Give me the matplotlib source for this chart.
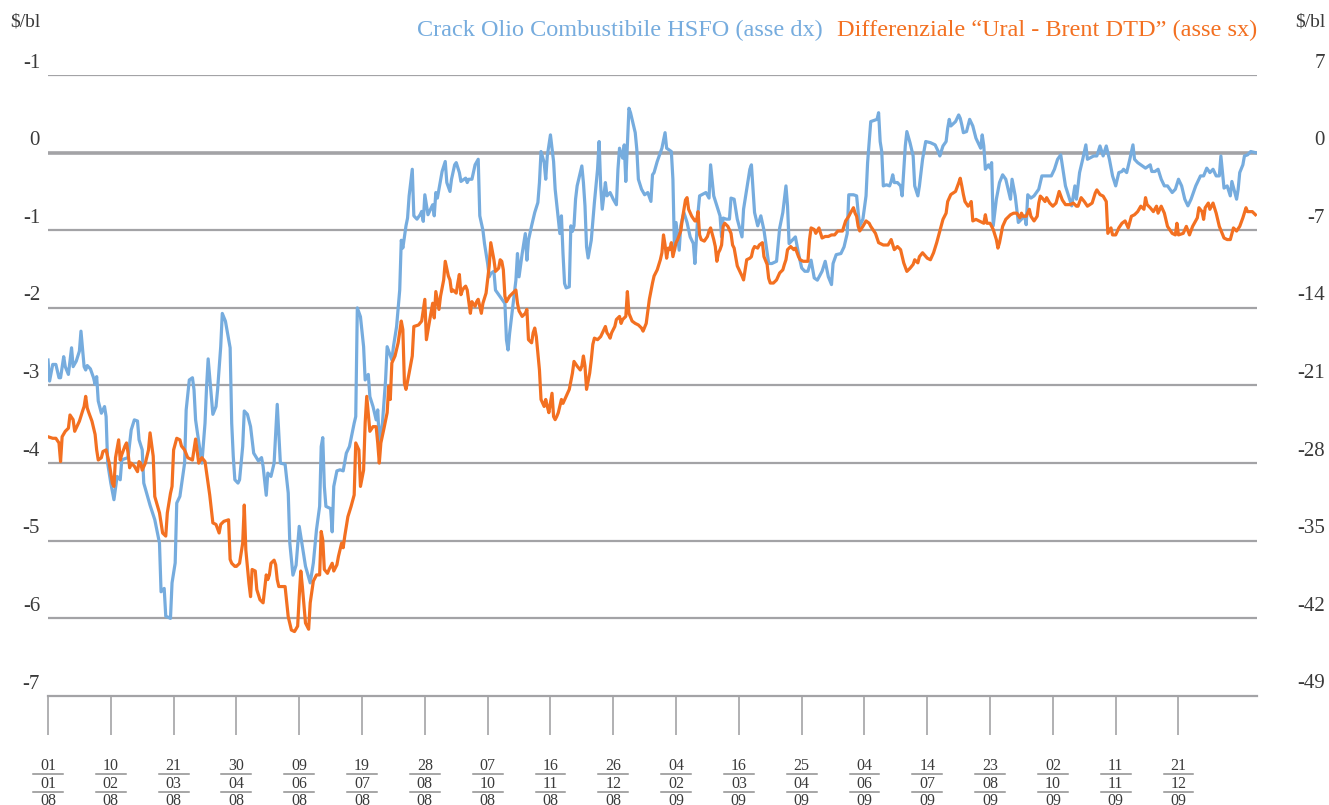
import datetime as dt

import matplotlib

matplotlib.use("Agg")
import matplotlib.pyplot as plt
from matplotlib import transforms

plt.rcParams["font.family"] = ["Liberation Serif", "DejaVu Serif"]

# ---- data -------------------------------------------------------------
START = dt.date(2008, 1, 1)

# Crack Olio Combustibile HSFO ($/bl, right axis): days since 1 Jan 2008, value
hsfo_day = [
    0, 1, 3, 5, 7, 8, 10, 11, 13, 15, 16, 18, 20, 21, 23, 24, 25, 27, 29, 30,
    31, 32, 34, 36, 37, 38, 40, 42, 44, 46, 47, 51, 53, 55, 57, 58, 60, 61, 65, 68,
    71, 72, 74, 75, 78, 79, 81, 82, 84, 87, 88, 90, 92, 93, 94, 95, 98, 100, 101, 102,
    103, 105, 107, 108, 110, 111, 113, 116, 117, 118, 119, 121, 122, 124, 125, 127, 129, 131, 134, 136,
    137, 139, 140, 142, 144, 146, 148, 151, 153, 154, 156, 158, 160, 162, 164, 167, 169, 171, 173, 174,
    175, 176, 177, 180, 181, 182, 184, 186, 188, 190, 192, 194, 195, 196, 197, 199, 201, 202, 204, 205,
    207, 209, 210, 211, 213, 215, 216, 219, 220, 222, 224, 225, 226, 228, 229, 230, 232, 233, 235, 237,
    238, 239, 240, 242, 243, 245, 246, 247, 248, 249, 251, 253, 254, 256, 257, 259, 260, 262, 263, 265,
    266, 267, 268, 270, 272, 274, 275, 277, 278, 280, 281, 282, 284, 285, 288, 291, 292, 293, 294, 296,
    298, 299, 300, 302, 304, 305, 306, 308, 310, 312, 313, 314, 316, 317, 318, 320, 322, 323, 325, 326,
    327, 328, 329, 330, 332, 333, 334, 335, 336, 337, 340, 341, 342, 343, 344, 346, 348, 350, 351, 352,
    353, 355, 356, 358, 360, 362, 363, 364, 366, 367, 368, 370, 371, 374, 375, 376, 378, 380, 382, 384,
    385, 386, 388, 391, 393, 394, 397, 398, 399, 400, 402, 403, 405, 407, 409, 411, 412, 414, 415, 419,
    421, 422, 424, 426, 428, 429, 430, 432, 434, 435, 437, 439, 442, 443, 445, 447, 448, 450, 452, 454,
    456, 459, 461, 464, 466, 468, 470, 471, 472, 474, 476, 478, 480, 482, 484, 486, 488, 490, 493, 495,
    497, 499, 500, 502, 505, 507, 509, 510, 513, 515, 516, 517, 519, 521, 522, 524, 528, 529, 530, 531,
    532, 534, 536, 537, 538, 539, 541, 543, 544, 546, 547, 549, 551, 552, 554, 555, 557, 559, 562, 565,
    567, 568, 570, 572, 573, 574, 575, 578, 580, 581, 582, 583, 585, 587, 589, 591, 594, 595, 596, 597,
    599, 600, 601, 602, 604, 606, 608, 610, 613, 614, 616, 618, 620, 622, 623, 624, 626, 628, 631, 633,
    636, 639, 641, 643, 645, 648, 650, 652, 654, 655, 657, 659, 661, 662, 666, 668, 670, 672, 674, 676,
    678, 680, 682, 684, 685, 687, 689, 691, 692, 694, 696, 699, 702, 703, 705, 707, 709, 711, 713, 716,
    718, 720, 722, 724, 726, 728, 731, 734, 736, 738, 740, 742, 744, 746, 747, 749, 751, 753, 754, 757,
    758, 759, 761, 762, 764, 766, 769,
]
hsfo_val = [
    -18.7, -20.6, -19.1, -19.1, -20.3, -20.3, -18.4, -19.3, -20.0, -17.6, -19.3, -18.8, -17.9, -16.1, -19.3, -19.6, -19.2, -19.5, -20.3, -20.9,
    -20.2, -22.4, -23.5, -22.9, -23.8, -28.0, -29.8, -31.3, -29.2, -29.5, -27.7, -27.5, -25.0, -24.1, -24.2, -25.9, -26.8, -29.8, -31.8, -33.1,
    -35.2, -39.6, -39.3, -41.8, -42.0, -38.8, -37.0, -31.6, -31.0, -28.0, -23.2, -20.5, -20.3, -21.4, -24.1, -25.1, -28.0, -24.4, -21.1, -18.6,
    -20.3, -23.6, -22.9, -21.4, -17.5, -14.5, -15.2, -17.6, -24.4, -27.4, -29.5, -29.8, -29.5, -26.5, -23.3, -23.6, -24.7, -27.1, -27.8, -27.5,
    -28.3, -30.9, -28.9, -29.2, -28.0, -22.7, -28.0, -28.1, -30.7, -35.2, -38.1, -37.2, -33.7, -35.5, -37.3, -38.8, -37.0, -34.0, -31.9, -26.5,
    -25.7, -30.1, -31.9, -32.1, -34.2, -30.1, -28.7, -28.6, -28.7, -27.1, -26.5, -25.1, -24.4, -23.8, -14.0, -14.8, -17.5, -20.5, -20.0, -22.0,
    -22.9, -24.1, -23.2, -26.0, -24.4, -20.5, -17.5, -18.7, -17.5, -15.7, -12.4, -7.9, -8.6, -6.6, -5.9, -3.9, -1.5, -5.7, -6.0, -5.6,
    -5.3, -6.2, -3.8, -5.6, -5.3, -4.7, -5.7, -3.6, -4.1, -3.3, -1.7, -0.8, -2.7, -3.5, -2.4, -1.1, -0.9, -1.8, -2.6, -2.4,
    -2.3, -2.7, -2.4, -2.4, -1.1, -0.6, -5.7, -7.0, -8.2, -10.0, -11.2, -10.9, -10.7, -12.4, -13.0, -13.6, -16.9, -17.8, -16.3, -13.9,
    -11.5, -9.1, -11.2, -9.1, -7.3, -9.7, -7.9, -6.6, -5.4, -4.5, -2.7, 0.1, -0.9, -2.4, -0.3, 1.6, -0.8, -3.3, -6.0, -7.3,
    -5.7, -9.1, -11.8, -12.2, -12.1, -6.6, -7.1, -6.6, -4.2, -3.0, -1.2, -2.7, -4.8, -8.5, -9.5, -7.9, -4.5, -1.5, 1.0, -3.0,
    -5.1, -2.7, -3.9, -3.6, -4.2, -4.7, -1.5, 0.4, -0.5, 0.7, -2.6, 4.0, 3.6, 1.8, 0.3, -2.4, -3.3, -3.8, -3.6, -4.4,
    -2.0, -1.8, -0.8, 0.4, 1.8, 0.4, 0.1, -2.4, -8.8, -6.3, -8.8, -6.6, -5.4, -6.3, -7.6, -8.2, -10.0, -5.4, -3.9, -3.6,
    -4.1, -1.1, -3.9, -4.8, -5.7, -7.6, -5.9, -6.0, -6.0, -4.1, -4.2, -6.0, -7.6, -5.1, -3.3, -1.5, -1.1, -5.4, -6.6, -5.7,
    -7.0, -10.0, -10.0, -9.8, -6.8, -5.4, -3.0, -4.8, -8.2, -7.9, -7.6, -9.1, -10.4, -10.7, -10.7, -9.7, -11.3, -11.5, -10.7, -9.8,
    -11.2, -11.9, -10.0, -9.2, -9.1, -8.5, -7.3, -3.8, -3.8, -3.9, -5.4, -6.6, -6.0, -3.9, -0.9, 2.8, 3.0, 3.6, 1.0, 0.1,
    -3.0, -2.9, -3.0, -2.6, -2.0, -2.7, -2.7, -3.0, -3.9, 0.6, 1.9, 0.9, -0.3, -3.0, -3.9, -3.0, -0.6, 1.0, 0.9, 0.7,
    0.1, -0.3, 0.6, 1.0, 2.2, 3.0, 2.4, 2.8, 3.4, 3.1, 2.5, 1.8, 1.9, 3.0, 2.4, 1.3, 0.4, 1.6, 0.6, -1.5,
    -1.1, -1.4, -0.9, -6.6, -4.2, -2.7, -2.0, -2.4, -4.2, -2.4, -3.9, -6.3, -6.0, -5.7, -6.5, -3.8, -4.1, -3.9, -3.3, -2.1,
    -2.1, -2.1, -1.5, -0.6, -0.2, -3.0, -3.9, -4.8, -3.0, -4.2, -1.8, -0.6, 0.7, -0.6, -0.3, -0.3, 0.6, -0.3, 0.6, -0.6,
    -2.1, -3.0, -1.8, -1.7, -1.5, -1.8, -0.6, 0.7, -0.6, -0.9, -1.1, -1.4, -1.1, -1.7, -1.7, -1.5, -2.4, -3.0, -3.0, -3.6,
    -3.3, -2.4, -3.0, -4.2, -4.8, -4.2, -3.0, -2.1, -2.1, -1.4, -1.8, -1.5, -2.1, -2.1, -0.3, -3.2, -3.0, -3.9, -2.6, -4.2,
    -3.3, -1.8, -1.1, -0.3, -0.2, 0.1, 0.0,
]

# Differenziale "Ural - Brent DTD" ($/bl, left axis)
ural_day = [
    0, 3, 5, 7, 8, 9, 11, 13, 14, 16, 17, 20, 22, 23, 24, 25, 26, 28, 30, 31,
    32, 34, 35, 37, 39, 41, 42, 43, 45, 46, 47, 49, 50, 51, 52, 53, 55, 57, 58, 59,
    60, 62, 64, 65, 67, 68, 71, 73, 75, 76, 78, 79, 80, 82, 84, 85, 87, 89, 92, 94,
    96, 98, 100, 102, 103, 105, 107, 109, 110, 112, 115, 116, 117, 119, 120, 122, 124, 125, 126, 128,
    129, 130, 132, 133, 135, 137, 139, 140, 141, 142, 144, 145, 146, 147, 151, 153, 155, 157, 159, 160,
    161, 162, 164, 166, 167, 169, 171, 173, 174, 175, 176, 178, 179, 181, 182, 184, 185, 187, 188, 189,
    191, 193, 195, 196, 198, 199, 201, 202, 203, 205, 207, 209, 210, 211, 212, 214, 216, 217, 218, 219,
    221, 223, 225, 226, 227, 228, 230, 232, 233, 236, 238, 240, 241, 243, 245, 246, 247, 249, 250, 252,
    253, 255, 256, 257, 258, 260, 261, 262, 263, 264, 265, 266, 267, 269, 270, 272, 273, 274, 276, 277,
    279, 280, 281, 282, 284, 285, 287, 288, 289, 290, 291, 292, 294, 296, 298, 299, 300, 302, 304, 305,
    306, 308, 309, 310, 311, 313, 314, 316, 317, 318, 319, 321, 322, 323, 324, 325, 327, 328, 330, 332,
    334, 335, 337, 339, 340, 341, 342, 343, 345, 346, 347, 348, 350, 352, 355, 356, 357, 358, 359, 361,
    362, 364, 365, 366, 368, 369, 370, 372, 374, 376, 377, 378, 379, 381, 383, 385, 386, 388, 390, 391,
    392, 393, 394, 395, 396, 397, 398, 400, 401, 403, 404, 406, 407, 408, 410, 412, 413, 414, 415, 416,
    418, 420, 421, 422, 424, 425, 426, 427, 428, 429, 430, 431, 433, 435, 436, 437, 439, 442, 443, 444,
    445, 447, 448, 449, 450, 452, 453, 455, 456, 458, 459, 460, 462, 464, 466, 468, 469, 470, 471, 473,
    475, 476, 478, 479, 481, 484, 485, 486, 488, 489, 491, 493, 495, 497, 499, 501, 503, 506, 508, 510,
    511, 513, 514, 515, 516, 517, 519, 521, 523, 524, 527, 529, 532, 535, 537, 539, 541, 543, 545, 547,
    549, 551, 552, 554, 555, 557, 560, 562, 564, 566, 568, 570, 572, 573, 575, 578, 580, 581, 582, 583,
    584, 586, 587, 588, 589, 591, 593, 596, 597, 598, 600, 602, 604, 605, 606, 608, 610, 613, 615, 617,
    619, 620, 621, 623, 625, 626, 628, 630, 631, 632, 633, 635, 636, 638, 640, 642, 644, 646, 648, 651,
    653, 655, 656, 658, 660, 662, 665, 667, 668, 670, 672, 674, 675, 677, 678, 680, 682, 684, 686, 688,
    690, 692, 694, 696, 698, 699, 700, 702, 704, 706, 707, 709, 711, 713, 716, 718, 719, 720, 723, 725,
    727, 729, 732, 733, 735, 736, 737, 739, 740, 742, 744, 746, 749, 751, 753, 755, 757, 759, 761, 763,
    764, 767, 769,
]
ural_val = [
    -3.66, -3.68, -3.68, -3.74, -3.98, -3.66, -3.59, -3.55, -3.38, -3.44, -3.59, -3.46, -3.33, -3.27, -3.14, -3.29, -3.35, -3.46, -3.63, -3.83,
    -3.96, -3.93, -3.85, -3.83, -4.00, -4.26, -4.30, -3.93, -3.70, -3.96, -3.89, -3.78, -3.74, -3.87, -4.06, -4.00, -4.04, -4.11, -3.98, -4.00,
    -4.09, -4.00, -3.83, -3.61, -3.91, -4.43, -4.64, -4.90, -4.94, -4.64, -4.39, -4.30, -3.83, -3.68, -3.70, -3.78, -3.83, -3.93, -3.96, -3.69,
    -4.00, -3.93, -3.98, -4.26, -4.41, -4.77, -4.79, -4.90, -4.79, -4.75, -4.73, -5.24, -5.29, -5.33, -5.33, -5.29, -5.03, -4.54, -5.12, -5.55,
    -5.72, -5.37, -5.39, -5.63, -5.76, -5.80, -5.44, -5.50, -5.44, -5.29, -5.25, -5.31, -5.50, -5.59, -5.59, -5.98, -6.15, -6.17, -6.10, -5.72,
    -5.39, -5.59, -6.06, -6.14, -5.80, -5.52, -5.44, -5.44, -4.88, -4.99, -5.37, -5.42, -5.37, -5.29, -5.39, -5.31, -5.20, -5.03, -5.09, -4.94,
    -4.69, -4.56, -4.41, -3.74, -3.83, -4.30, -4.09, -3.48, -3.14, -3.59, -3.53, -3.53, -3.74, -4.00, -3.74, -3.55, -3.35, -3.01, -3.18, -2.71,
    -2.62, -2.45, -2.17, -2.28, -2.97, -3.05, -2.84, -2.62, -2.24, -2.22, -2.17, -1.89, -2.41, -2.17, -1.94, -2.13, -1.79, -2.02, -1.85, -1.64,
    -1.40, -1.59, -1.64, -1.79, -1.77, -1.81, -1.68, -1.57, -1.83, -1.77, -1.74, -1.72, -1.77, -2.07, -1.92, -1.98, -1.92, -1.89, -2.07, -1.94,
    -1.81, -1.64, -1.46, -1.16, -1.38, -1.53, -1.49, -1.38, -1.40, -1.51, -1.85, -1.92, -1.85, -1.81, -1.77, -1.94, -2.04, -2.11, -2.07, -2.02,
    -2.41, -2.45, -2.32, -2.26, -2.37, -2.80, -3.18, -3.27, -3.18, -3.27, -3.35, -3.10, -3.40, -3.44, -3.40, -3.35, -3.18, -3.23, -3.14, -3.05,
    -2.84, -2.69, -2.75, -2.80, -2.75, -2.62, -2.75, -3.05, -2.84, -2.67, -2.47, -2.39, -2.41, -2.37, -2.24, -2.32, -2.35, -2.39, -2.32, -2.24,
    -2.15, -2.11, -2.20, -2.15, -2.11, -1.79, -2.07, -2.17, -2.20, -2.22, -2.24, -2.26, -2.30, -2.20, -1.89, -1.68, -1.59, -1.51, -1.38, -1.29,
    -1.06, -1.19, -1.36, -1.23, -1.25, -1.16, -1.34, -1.16, -1.12, -1.01, -0.86, -0.61, -0.58, -0.73, -0.82, -0.88, -0.88, -0.76, -1.06, -1.12,
    -1.14, -1.08, -1.01, -0.97, -1.12, -1.21, -1.40, -1.29, -1.25, -1.19, -0.95, -0.91, -0.95, -1.04, -1.19, -1.23, -1.46, -1.59, -1.64, -1.51,
    -1.38, -1.36, -1.34, -1.25, -1.21, -1.23, -1.19, -1.16, -1.34, -1.44, -1.62, -1.68, -1.68, -1.64, -1.55, -1.51, -1.44, -1.38, -1.25, -1.21,
    -1.25, -1.23, -1.34, -1.38, -1.40, -1.40, -1.12, -0.97, -0.99, -1.04, -0.97, -1.10, -1.08, -1.08, -1.06, -1.06, -1.01, -1.01, -0.88, -0.82,
    -0.78, -0.71, -0.78, -0.82, -0.95, -1.01, -0.95, -0.88, -0.91, -0.95, -1.04, -1.16, -1.19, -1.19, -1.12, -1.25, -1.21, -1.25, -1.42, -1.53,
    -1.49, -1.44, -1.38, -1.42, -1.34, -1.29, -1.36, -1.38, -1.29, -1.16, -1.01, -0.86, -0.78, -0.63, -0.54, -0.50, -0.39, -0.33, -0.43, -0.54,
    -0.63, -0.69, -0.67, -0.63, -0.88, -0.86, -0.88, -0.91, -0.80, -0.91, -0.91, -0.99, -1.12, -1.23, -1.16, -0.95, -0.86, -0.80, -0.78, -0.78,
    -0.84, -0.78, -0.82, -0.82, -0.73, -0.82, -0.88, -0.82, -0.65, -0.56, -0.58, -0.63, -0.58, -0.65, -0.69, -0.65, -0.50, -0.61, -0.67, -0.67,
    -0.65, -0.69, -0.69, -0.58, -0.63, -0.69, -0.65, -0.52, -0.48, -0.54, -0.56, -0.63, -1.04, -0.97, -1.06, -1.06, -0.97, -0.91, -0.88, -0.97,
    -0.82, -0.80, -0.76, -0.69, -0.73, -0.58, -0.67, -0.71, -0.76, -0.69, -0.78, -0.69, -0.78, -0.95, -1.04, -1.06, -0.91, -1.06, -1.04, -0.95,
    -1.06, -0.95, -0.84, -0.71, -0.76, -0.86, -0.71, -0.65, -0.73, -0.65, -0.78, -0.95, -1.10, -1.12, -1.12, -0.97, -1.01, -0.95, -0.84, -0.71,
    -0.76, -0.76, -0.80,
]

left_ticks = [1, 0, -1, -2, -3, -4, -5, -6, -7]
left_labels = ["-1", "0", "-1", "-2", "-3", "-4", "-5", "-6", "-7"]
right_ticks = [7, 0, -7, -14, -21, -28, -35, -42, -49]
right_labels = ["7", "0", "-7", "-14", "-21", "-28", "-35", "-42", "-49"]
tick_days = list(range(0, 721, 40))

BLUE, ORANGE = "#76acde", "#f37021"
GRID, TXT = "#a3a3a6", "#3a3a3a"

# ---- figure -----------------------------------------------------------
W, H = 1329, 805
fig = plt.figure(figsize=(W / 100, H / 100), dpi=100)
ax2 = fig.add_axes([48 / W, 109 / H, 1209 / W, 621 / H])   # right axis: grid + HSFO
ax = fig.add_axes([48 / W, 109 / H, 1209 / W, 621 / H])    # left axis: Ural-Brent on top
ax.patch.set_visible(False)

ax.set_xlim(0, 770)
ax2.set_xlim(0, 770)
ax.set_ylim(-7, 1)
ax2.set_ylim(-49, 7)

for a in (ax, ax2):
    for s in ("top", "left", "right"):
        a.spines[s].set_visible(False)
    a.set_yticks([])
ax2.spines["bottom"].set_visible(False)
ax2.set_xticks([])

for v in right_ticks[:-1]:
    ax2.axhline(v, color=GRID, lw=1.6 if v else 2.6, zorder=1)

ax.spines["bottom"].set_color(GRID)
ax.spines["bottom"].set_linewidth(1.6)
ax.set_xticks(tick_days)
ax.tick_params(axis="x", length=28, width=1.2, color=GRID, labelbottom=False)

ax2.plot(hsfo_day, hsfo_val, color=BLUE, lw=2.3, zorder=2, solid_joinstyle="round")
ax.plot(ural_day, ural_val, color=ORANGE, lw=2.3, zorder=3, solid_joinstyle="round")

# y labels sit a little above their gridline
up = 12 * 72 / 100
tl = transforms.offset_copy(transforms.blended_transform_factory(fig.transFigure, ax.transData),
                            fig=fig, y=up, units="points")
tr = transforms.offset_copy(transforms.blended_transform_factory(fig.transFigure, ax2.transData),
                            fig=fig, y=up, units="points")
for v, lab in zip(left_ticks, left_labels):
    fig.text(40 / W, v, lab, transform=tl, ha="right", va="center", fontsize=15, color=TXT)
for v, lab in zip(right_ticks, right_labels):
    fig.text(1325 / W, v, lab, transform=tr, ha="right", va="center", fontsize=15, color=TXT)

fig.text(25 / W, 1 - 22 / H, "$/bl", ha="center", va="center", fontsize=14, color=TXT)
fig.text(1310 / W, 1 - 22 / H, "$/bl", ha="center", va="center", fontsize=14, color=TXT)

# stacked dd / mm / yy date labels (the year row is cut by the lower edge, as in the original)
tx = transforms.blended_transform_factory(ax.transData, fig.transFigure)
for d in tick_days:
    day = START + dt.timedelta(days=d)
    parts = [day.strftime("%d"), day.strftime("%m"), day.strftime("%y")]
    for k, (txt, yc) in enumerate(zip(parts, (766, 784, 801))):
        fig.text(d, 1 - yc / H, txt, transform=tx, ha="center", va="center",
                 fontsize=11.5, color=TXT)
        if k < 2:
            ax.plot([d - 9.5, d + 9.5], [1 - (yc + 7.5) / H] * 2, transform=tx,
                    color="#8e8e8e", lw=1.1, clip_on=False)

# legend as coloured title texts
t_or = fig.text(1257 / W, 1 - 30 / H, "Differenziale “Ural - Brent DTD” (asse sx)",
                ha="right", va="center", fontsize=17.5, color=ORANGE)
fig.canvas.draw()
bb = t_or.get_window_extent()
fig.text((bb.x0 - 14) / W, 1 - 30 / H, "Crack Olio Combustibile HSFO (asse dx)",
         ha="right", va="center", fontsize=17.5, color=BLUE)

fig.savefig("out.png", dpi=100)
